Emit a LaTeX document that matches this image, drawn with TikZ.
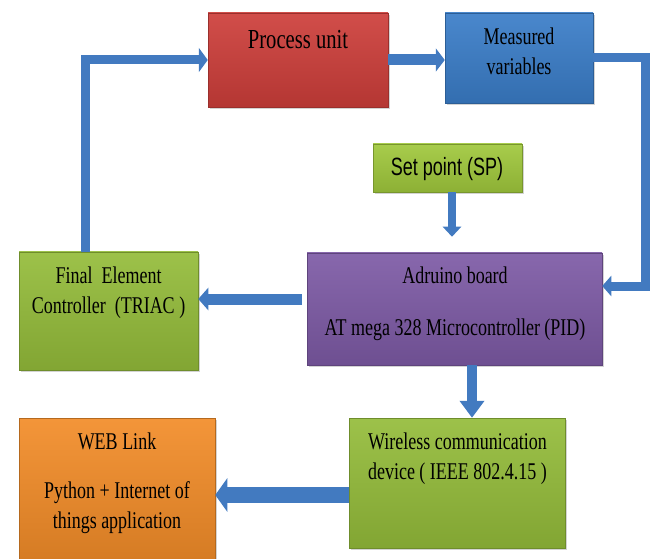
\documentclass[tikz,border=0pt]{standalone}
\usepackage{fontspec}
\setmainfont[FakeStretch=0.75]{Liberation Serif}
\newfontfamily\spfont[FakeStretch=0.72]{Liberation Sans}
\usetikzlibrary{arrows.meta,shadows}
\definecolor{processcolor}{RGB}{205,62,58}
\definecolor{measuredcolor}{RGB}{58,125,200}
\definecolor{setpointcolor}{RGB}{160,200,60}
\definecolor{controlcolor}{RGB}{148,188,58}
\definecolor{arduinocolor}{RGB}{125,90,165}
\definecolor{webcolor}{RGB}{242,140,40}
\definecolor{arrowcolor}{RGB}{66,122,192}

\begin{document}
\begin{tikzpicture}[x=1pt, y=-1pt,
    box/.style={rectangle, draw=#1!75!black, line width=0.5pt, top color=#1!92!white, bottom color=#1!88!black,
        drop shadow={shadow xshift=1.5pt, shadow yshift=-2pt, opacity=0.35}, inner sep=0pt},
    lbl/.style={font=\fontsize{24}{30}\selectfont, align=center, anchor=base, inner sep=0pt},
    flow/.style={draw=arrowcolor, line width=#1, line join=miter}
]

\useasboundingbox (0,0) rectangle (654,559);

% Blocks
\node[box=processcolor, minimum width=180pt, minimum height=94pt] (process_unit) at (298,60) {};
\node[box=measuredcolor, minimum width=148pt, minimum height=90pt] (measured) at (519,58) {};
\node[box=setpointcolor, minimum width=149pt, minimum height=48pt] (set_point) at (447.5,168) {};
\node[box=controlcolor, minimum width=179pt, minimum height=118pt] (final_elem) at (108.5,311) {};
\node[box=arduinocolor, minimum width=295pt, minimum height=112pt] (arduino) at (454.5,309) {};
\node[box=controlcolor, minimum width=216pt, minimum height=130pt] (wireless) at (457,483) {};
\node[box=webcolor, minimum width=196pt, minimum height=146pt] (web_link) at (117,491) {};

% Labels (multi-line ones sit on the baseline of their last line)
\node[lbl, font=\fontsize{27.5}{30}\selectfont] (process_lbl) at (298,48.3) {Process unit};
\node[lbl] (measured_lbl) at (519,74.3) {Measured\\variables};
\node[lbl, font=\spfont\fontsize{25}{30}\selectfont] (sp_lbl) at (447,176) {Set point (SP)};
\node[lbl] (final_lbl) at (108.5,313) {Final~~Element\\Controller~~(TRIAC~)};
\node[lbl] (arduino_lbl) at (455,335) {Adruino board\\[22pt]AT mega 328 Microcontroller (PID)};
\node[lbl] (wireless_lbl) at (457.5,479) {Wireless communication\\device ( IEEE 802.4.15 )};
\node[lbl] (web_lbl) at (117,528) {WEB Link\\[19pt]Python + Internet of\\things application};

% Arrows
\draw[flow=9pt, -{Triangle[length=9pt, width=24pt]}] ([xshift=-23.5pt]final_elem.north) |- (process_unit.west);
\draw[flow=11pt, -{Triangle[length=9pt, width=23pt]}] (process_unit.east) -- (process_unit.east -| measured.west);
\draw[flow=9pt, -{Triangle[length=9pt, width=20pt]}] (measured.east) -- ++(52,0) |- ([yshift=23pt]arduino.east);
\draw[flow=8pt, -{Triangle[length=10pt, width=18pt]}, shorten >=16pt] ([xshift=4.5pt]set_point.south) -- ([xshift=4.5pt]set_point.south |- arduino.north);
\draw[flow=11pt, -{Triangle[length=10pt, width=22pt]}, shorten <=5pt] ([yshift=10pt]arduino.west) -- ([yshift=10pt]arduino.west -| final_elem.east);
\draw[flow=10pt, -{Triangle[length=17pt, width=24pt]}] ([xshift=17.5pt]arduino.south) -- ([xshift=17.5pt]arduino.south |- wireless.north);
\draw[flow=16pt, -{Triangle[length=12pt, width=33pt]}] ([yshift=-12pt]wireless.west) -- ([yshift=-12pt]wireless.west -| web_link.east);

\end{tikzpicture}
\end{document}
